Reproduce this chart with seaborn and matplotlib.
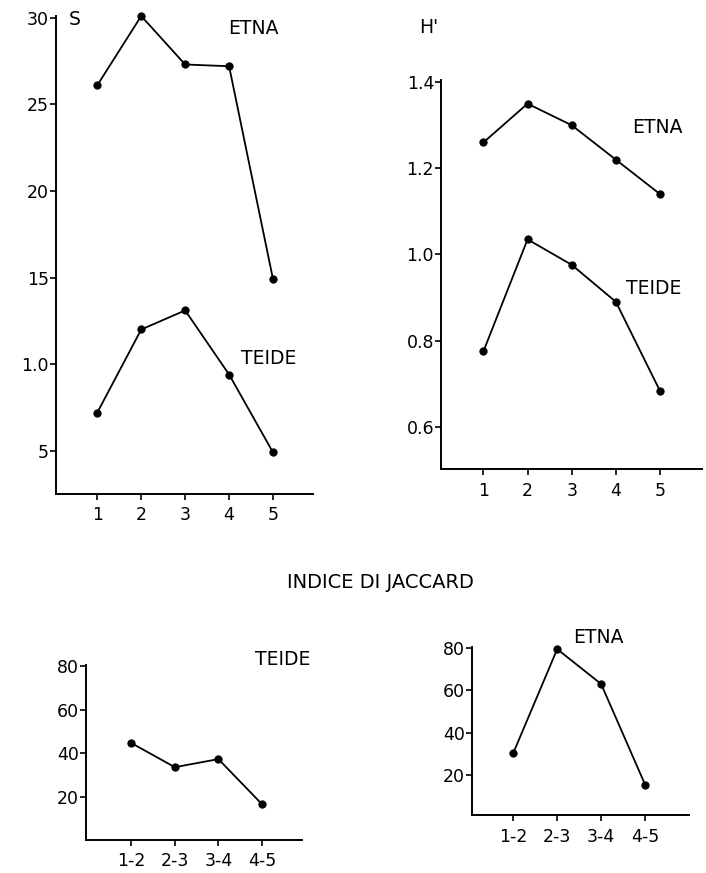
import matplotlib
matplotlib.use("Agg")
import matplotlib.pyplot as plt
import seaborn as sns
import pandas as pd
import numpy as np

# ---------------- data ----------------
stations = [1, 2, 3, 4, 5]
station_labels = ["1", "2", "3", "4", "5"]

S_etna = [26.1, 30.1, 27.3, 27.2, 14.9]
S_teide = [7.2, 12.0, 13.1, 9.4, 4.9]
S_ticks = [5, 10, 15, 20, 25, 30]
S_ticklabels = ["5", "1.0", "15", "20", "25", "30"]

H_etna = [1.26, 1.35, 1.30, 1.22, 1.14]
H_teide = [0.775, 1.035, 0.976, 0.89, 0.683]
H_ticks = [0.6, 0.8, 1.0, 1.2, 1.4]
H_ticklabels = ["0.6", "0.8", "1.0", "1.2", "1.4"]

pairs = ["1-2", "2-3", "3-4", "4-5"]
J_teide = [44.6, 33.5, 37.2, 16.5]
J_etna = [30.4, 79.5, 63.0, 15.5]
J_ticks = [20, 40, 60, 80]
J_ticklabels = ["20", "40", "60", "80"]

# ---------------- style ----------------
sns.set_style("ticks")
plt.rcParams["font.family"] = ["DejaVu Sans"]
plt.rcParams["text.color"] = "black"
plt.rcParams["axes.edgecolor"] = "black"
plt.rcParams["xtick.color"] = "black"
plt.rcParams["ytick.color"] = "black"
plt.rcParams["axes.linewidth"] = 1.4
plt.rcParams["xtick.major.width"] = 1.2
plt.rcParams["ytick.major.width"] = 1.2
plt.rcParams["xtick.major.size"] = 4
plt.rcParams["ytick.major.size"] = 4

W, H = 706, 873
fig = plt.figure(figsize=(W / 100, H / 100), dpi=100)
fig.patch.set_facecolor("white")

LINE_KW = dict(color="black", marker="o", markersize=5.2, linewidth=1.3,
               markeredgecolor="black", markerfacecolor="black", legend=False,
               clip_on=False)
LABEL_FS = 13.5
TICK_FS = 12.5


def style_axis(ax, xticks, xlabels, yticks, ylabels, xlim, ylim):
    ax.set_xlim(*xlim)
    ax.set_ylim(*ylim)
    ax.set_xticks(xticks)
    ax.set_xticklabels(xlabels, fontsize=TICK_FS, color="black")
    ax.set_yticks(yticks)
    ax.set_yticklabels(ylabels, fontsize=TICK_FS, color="black")
    ax.tick_params(axis="y", pad=1)
    ax.tick_params(axis="x", pad=5)
    ax.set_xlabel("")
    ax.set_ylabel("")
    sns.despine(ax=ax)
    ax.set_facecolor("white")


def panel(rect):
    x0, y0, x1, y1 = rect  # pixel box: left, top, right, bottom
    return fig.add_axes([x0 / W, 1 - y1 / H, (x1 - x0) / W, (y1 - y0) / H])


# ---------------- S panel ----------------
axS = panel((56, 16, 313, 494))
dfS = pd.DataFrame({"station": stations * 2,
                    "S": S_etna + S_teide,
                    "site": ["ETNA"] * 5 + ["TEIDE"] * 5})
for site in ["ETNA", "TEIDE"]:
    sns.lineplot(data=dfS[dfS.site == site], x="station", y="S", ax=axS, **LINE_KW)
style_axis(axS, stations, station_labels, S_ticks, S_ticklabels,
           (0.06, 5.91), (2.5, 30.1))
axS.text(0.35, 29.9, "S", fontsize=LABEL_FS, ha="left", va="center", clip_on=False)
axS.text(4.56, 29.4, "ETNA", fontsize=LABEL_FS, ha="center", va="center")
axS.text(4.9, 10.3, "TEIDE", fontsize=LABEL_FS, ha="center", va="center")

# ---------------- H' panel ----------------
axH = panel((441, 80, 702, 469))
dfH = pd.DataFrame({"station": stations * 2,
                    "H": H_etna + H_teide,
                    "site": ["ETNA"] * 5 + ["TEIDE"] * 5})
for site in ["ETNA", "TEIDE"]:
    sns.lineplot(data=dfH[dfH.site == site], x="station", y="H", ax=axH, **LINE_KW)
style_axis(axH, stations, station_labels, H_ticks, H_ticklabels,
           (0.04, 5.95), (0.502, 1.405))
axH.text(-0.24, 1.528, "H'", fontsize=LABEL_FS, ha="center", va="center", clip_on=False)
axH.text(4.93, 1.294, "ETNA", fontsize=LABEL_FS, ha="center", va="center")
axH.text(4.86, 0.921, "TEIDE", fontsize=LABEL_FS, ha="center", va="center")

# ---------------- title ----------------
fig.text(380 / W, 1 - 582 / H, "INDICE DI JACCARD", fontsize=14,
         ha="center", va="center")

pair_pos = list(np.arange(1, len(pairs) + 1))

# ---------------- Jaccard TEIDE ----------------
axJT = panel((86, 665, 302, 840))
dfJT = pd.DataFrame({"pair": pair_pos, "J": J_teide})
sns.lineplot(data=dfJT, x="pair", y="J", ax=axJT, **LINE_KW)
style_axis(axJT, pair_pos, pairs, J_ticks, J_ticklabels,
           (-0.04, 4.92), (0, 80.5))
axJT.text(4.47, 83.2, "TEIDE", fontsize=LABEL_FS, ha="center", va="center", clip_on=False)

# ---------------- Jaccard ETNA ----------------
axJE = panel((472, 647, 689, 815))
dfJE = pd.DataFrame({"pair": pair_pos, "J": J_etna})
sns.lineplot(data=dfJE, x="pair", y="J", ax=axJE, **LINE_KW)
style_axis(axJE, pair_pos, pairs, J_ticks, J_ticklabels,
           (0.06, 5.0), (1.1, 80.5))
axJE.text(2.93, 84.8, "ETNA", fontsize=LABEL_FS, ha="center", va="center", clip_on=False)

fig.savefig("out.png", dpi=100, facecolor="white")
